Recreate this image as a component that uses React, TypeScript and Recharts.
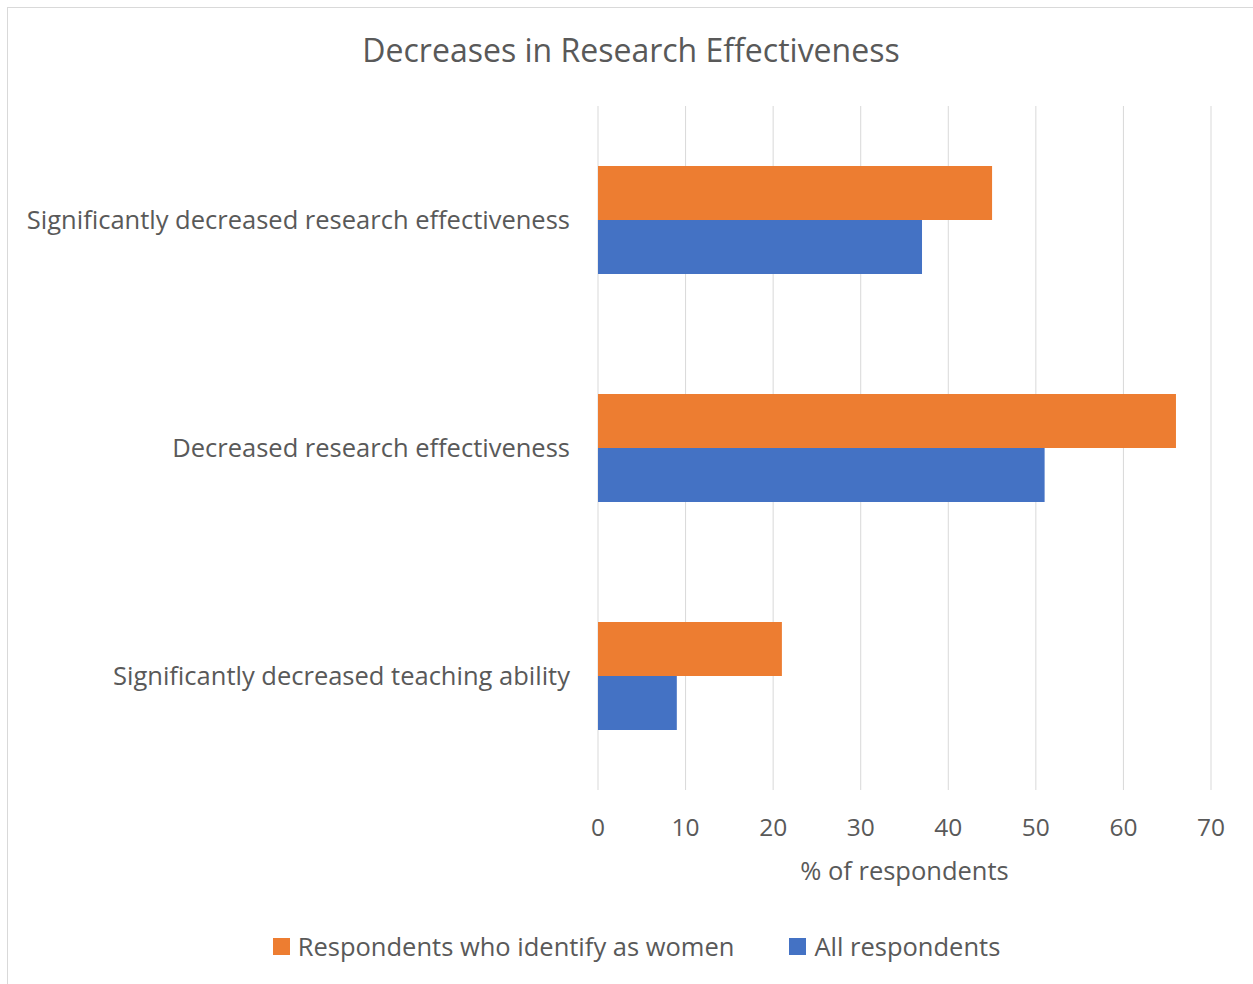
import { BarChart, Bar, XAxis, YAxis, CartesianGrid, Legend } from "recharts";

const categories = [
  "Significantly decreased research effectiveness",
  "Decreased research effectiveness",
  "Significantly decreased teaching ability",
];
const womenValues = [45, 66, 21];
const allValues = [37, 51, 9];
const xTicks = [0, 10, 20, 30, 40, 50, 60, 70];

const seriesNames = ["Respondents who identify as women", "All respondents"];
const colors = ["#ED7D31", "#4472C4"];

const data = categories.map((name, i) => ({
  name,
  women: womenValues[i],
  all: allValues[i],
}));

const FONT = "'Open Sans', sans-serif";
const TEXT = "#595959";

function LegendContent() {
  return (
    <div
      style={{
        display: "flex",
        justifyContent: "center",
        gap: 55,
        fontFamily: FONT,
        fontSize: 25.5,
        color: TEXT,
        paddingTop: 25,
        paddingLeft: 62,
      }}
    >
      {seriesNames.map((s, i) => (
        <div key={s} style={{ display: "flex", alignItems: "center" }}>
          <span
            style={{
              display: "inline-block",
              width: 17,
              height: 17,
              background: colors[i],
              marginRight: 8,
            }}
          />
          {s}
        </div>
      ))}
    </div>
  );
}

export default function App() {
  return (
    <div
      style={{
        position: "fixed",
        left: 0,
        top: 0,
        width: 1253,
        height: 984,
        background: "#fff",
        overflow: "hidden",
      }}
    >
      {/* chart frame, right and bottom edges run off the page */}
      <div
        style={{
          position: "absolute",
          left: 7,
          top: 7,
          width: 1260,
          height: 1000,
          border: "1.5px solid #d9d9d9",
        }}
      />
      <div
        style={{
          position: "absolute",
          left: 0,
          width: 1262,
          top: 29,
          textAlign: "center",
          fontFamily: FONT,
          fontSize: 32,
          color: TEXT,
          lineHeight: "42px",
        }}
      >
        Decreases in Research Effectiveness
      </div>
      <div style={{ position: "absolute", left: 0, top: 0 }}>
        <BarChart
          width={1253}
          height={984}
          data={data}
          layout="vertical"
          barGap={0}
          barSize={54}
          margin={{ top: 106, right: 42, bottom: 20, left: 0 }}
        >
          <CartesianGrid horizontal={false} stroke="#d9d9d9" />
          <XAxis
            type="number"
            domain={[0, 70]}
            ticks={xTicks}
            axisLine={false}
            tickLine={false}
            tickSize={0}
            tickMargin={29}
            height={114}
            tick={{ fill: TEXT, fontSize: 24.5, fontFamily: FONT }}
            label={{
              value: "% of respondents",
              position: "insideBottom",
              offset: 24,
              fill: TEXT,
              fontSize: 25.5,
              fontFamily: FONT,
            }}
          />
          <YAxis
            type="category"
            dataKey="name"
            width={598}
            axisLine={false}
            tickLine={false}
            tickSize={0}
            tickMargin={28}
            tick={{ fill: TEXT, fontSize: 25.5, fontFamily: FONT }}
          />
          <Legend
            verticalAlign="bottom"
            height={60}
            content={<LegendContent />}
          />
          <Bar
            dataKey="women"
            name={seriesNames[0]}
            fill={colors[0]}
            isAnimationActive={false}
          />
          <Bar
            dataKey="all"
            name={seriesNames[1]}
            fill={colors[1]}
            isAnimationActive={false}
          />
        </BarChart>
      </div>
    </div>
  );
}
